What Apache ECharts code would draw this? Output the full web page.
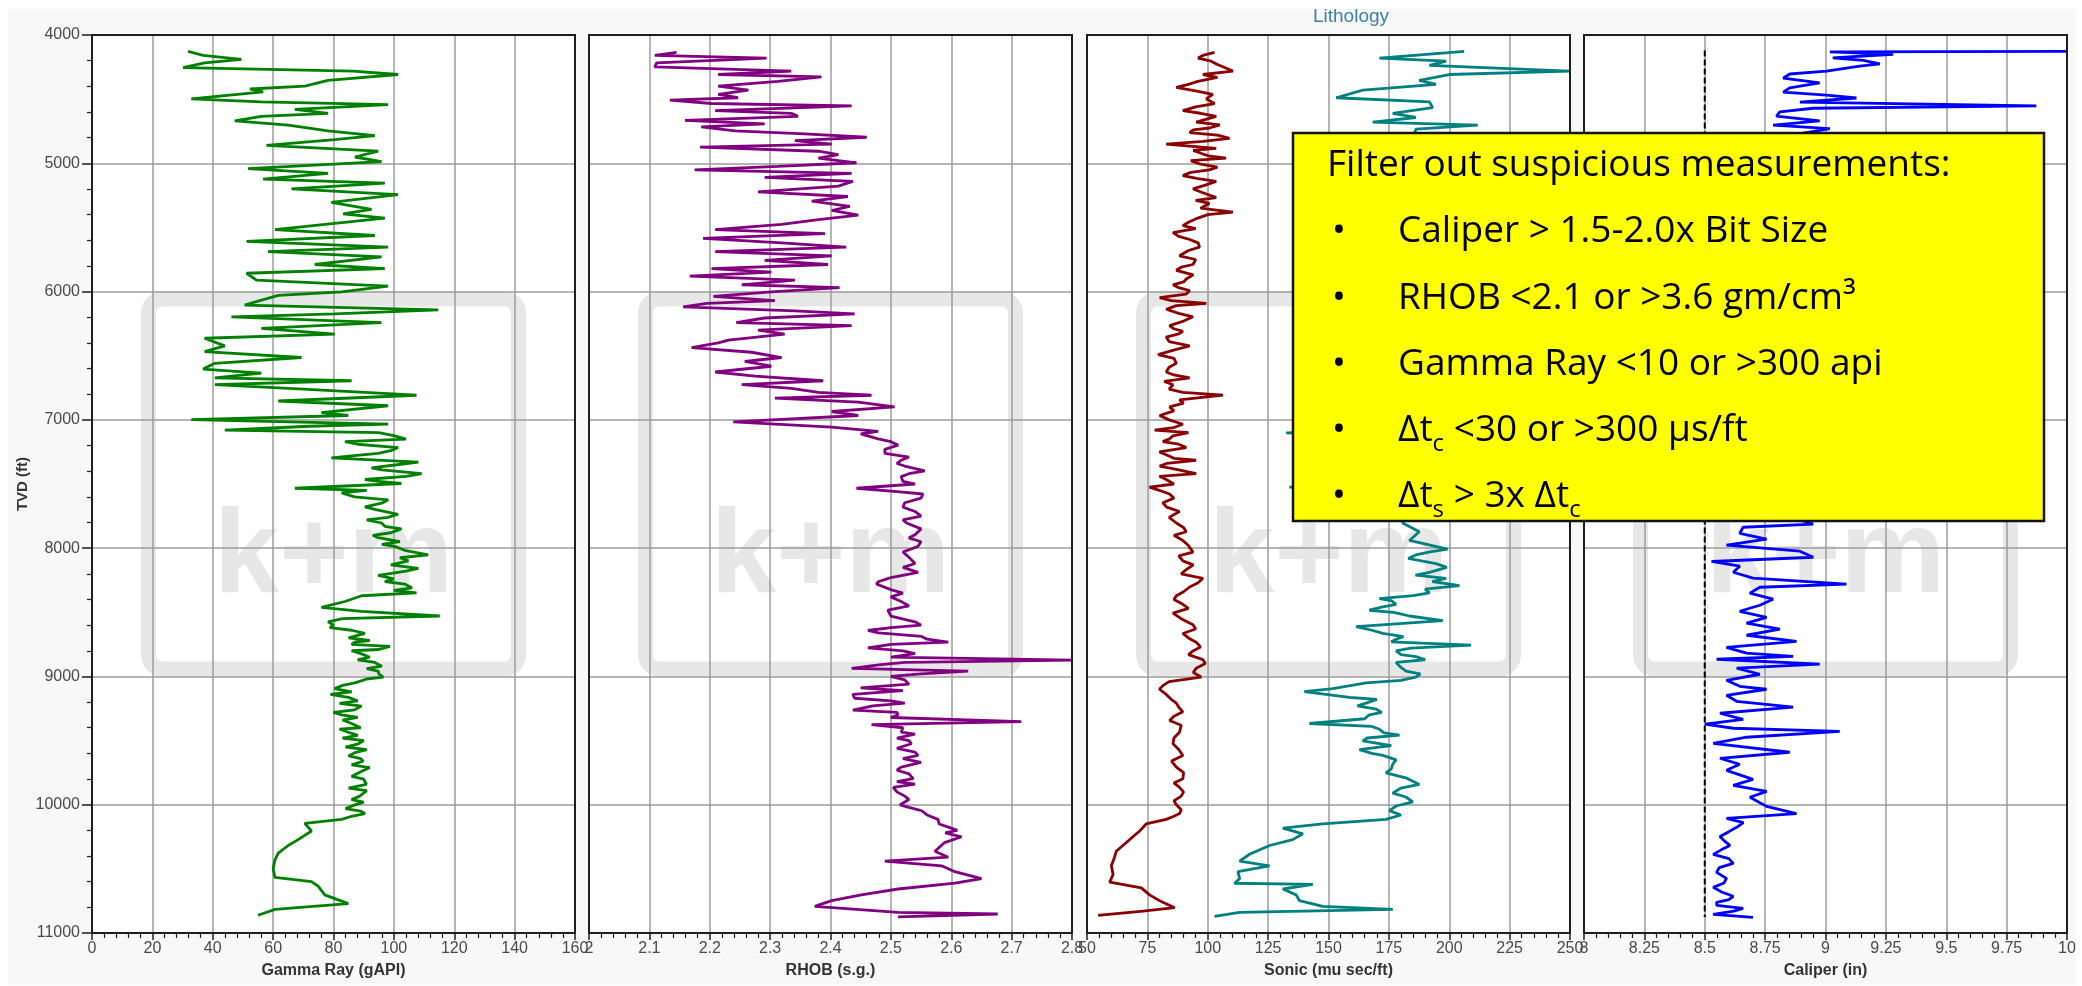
<!DOCTYPE html>
<html>
<head>
<meta charset="utf-8">
<title>Well logs</title>
<script src="https://cdn.jsdelivr.net/npm/echarts@6.0.0/dist/echarts.min.js"></script>
<style>
  html, body { margin: 0; padding: 0; background: #ffffff; }
  #chart { width: 2082px; height: 986px; }
</style>
</head>
<body>
<div id="chart"></div>
<script>
// ---------------- Track definitions ----------------
const trackTitles = ['Gamma Ray (gAPI)', 'RHOB (s.g.)', 'Sonic (mu sec/ft)', 'Caliper (in)'];
const trackMin = [0, 2, 50, 8];
const trackMax = [160, 2.8, 250, 10];
const trackStep = [20, 0.1, 25, 0.25];
const depthMin = 4000;
const depthMax = 11000;
const depthStep = 1000;
const depthTitle = 'TVD (ft)';
const headerTitle = 'Lithology';

// ---------------- Log curves (depth in ft, value in track units) ----------------
// Each depth/value pair list is sorted by depth before plotting, so the
// finer-scale samples appended at the end of a list fall into place.
const grDepth = [4127,4159,4190,4217,4254,4281,4308,4353,4399,4421,4444,4498,4521,4543,4580,4611,4634,4670,4702,4747,
  4784,4815,4861,4906,4951,4987,5042,5078,5123,5155,5200,5245,5304,5359,5395,5427,5472,5517,5563,5608,
  5653,5689,5730,5789,5821,5857,5911,5957,6002,6029,6074,6106,6142,6174,6197,6242,6287,6332,6364,6423,
  6468,6514,6559,6604,6636,6672,6695,6726,6763,6808,6853,6890,6944,6966,6998,7034,7080,7125,7170,7216,
  7261,7297,7329,7374,7419,7465,7496,7533,7569,7623,7678,7736,7804,7850,7918,7986,8053,8099,8158,8212,
  8280,8348,8371,8416,8461,8493,8529,8574,8620,8665,8733,8765,8824,8891,8959,9005,9050,9095,9163,9231,
  9299,9367,9435,9525,9594,9661,9752,9842,9933,10001,10069,10114,10146,10205,10272,10318,10377,10431,10499,10567,
  10599,10635,10703,10771,10816,10862,
  7050,7100,7150,7190,7240,7280,7350,7390,7440,7480,7550,7600,7650,7700,7760,7780,7830,7880,7900,7950,
  7970,8020,8075,8130,8180,8240,8260,8310,8330,8550,8600,8640,8700,8720,8750,8790,8800,8850,8870,8920,
  8940,8980,9020,9070,9120,9140,9190,9210,9260,9280,9320,9340,9400,9410,9460,9480,9500,9550,9570,9620,
  9640,9690,9710,9780,9800,9870,9890,9960,9980,10030,10050,10090];
const grValue = [31.8,36.8,49.5,37.3,30.2,86.5,101.4,78.2,70.5,52.3,56.7,32.9,56.1,98.1,67.2,78.2,56.1,47.3,65,78.2,
  93.7,80.4,57.8,94.8,87.1,95.9,51.7,78.2,56.7,97,66.1,101.4,79.3,92.6,83.2,97,78.8,60.6,93.7,51.2,
  98.1,58.3,95.9,73.8,97,51.2,54.5,98.1,82.7,61.7,55,50.6,114.7,80.4,46.2,95.9,56.1,80.4,37.3,44,
  37.3,69.4,40.7,36.8,56.1,40.7,86,40.7,71.6,107.5,61.7,98.1,76,84.9,32.9,98.1,44,100.3,83.8,101.4,
  94.8,79.3,108.1,92.6,109.2,90.4,102.5,67.2,82.7,98.1,90.4,101.4,95.9,102.5,94.8,100.3,111.4,104.8,108.1,94.8,
  103.6,107.5,89.3,83.8,76,89.3,115.2,78.2,78.8,90.4,87.1,98.7,89.3,93.7,94.8,96.5,87.1,80.4,84.9,89.3,
  82.7,86,84.9,88.2,87.1,89.8,88.2,90.9,88.7,87.1,90.4,82.7,70.5,72.7,68.3,65,61.7,60.6,60,60.6,
  72.7,74.9,77.1,84.9,60.6,55,
  72,95,104,88,99,86,101,96,104,95,91,87,96,94,98,91,97,99,93,102,
  96,104,102,99,104,100,97,106,100,83,80,86,85,92,86,95,86,92,88,96,
  91,95,91,83,86,79,88,82,87,80,88,83,89,82,88,83,90,84,91,85,
  89,86,92,86,90,85,91,86,90,84,89,86];

const rhobDepth = [4136,4159,4181,4217,4249,4281,4308,4326,4362,4399,4430,4462,4489,4507,4534,4553,4589,4611,4634,4666,
  4693,4716,4747,4770,4797,4824,4851,4874,4906,4933,4960,4996,5024,5051,5078,5110,5141,5178,5223,5259,
  5295,5336,5368,5404,5440,5476,5517,5549,5585,5621,5653,5689,5721,5757,5789,5821,5848,5880,5911,5947,
  5970,6002,6038,6070,6092,6120,6151,6174,6206,6242,6265,6301,6332,6378,6400,6437,6473,6514,6545,6582,
  6627,6659,6695,6726,6754,6785,6808,6831,6862,6899,6935,6966,7016,7057,7089,7148,7197,7261,7315,7360,
  7397,7442,7533,7578,7646,7714,7804,7895,7986,8076,8189,8280,8325,8416,8484,8574,8642,8688,8733,8778,
  8823,8873,8891,8937,8959,9027,9140,9208,9263,9299,9353,9376,9435,9525,9616,9707,9797,9865,9933,10001,
  10047,10114,10182,10250,10295,10363,10409,10440,10476,10522,10576,10612,10657,10703,10748,10793,10839,10852,10875,
  7110,7170,7230,7290,7340,7420,7480,7500,7560,7610,7680,7750,7780,7850,7920,7950,8030,8120,8150,8230,
  8260,8350,8380,8450,8530,8600,8620,8660,8710,8750,8800,8850,8910,8980,9000,9060,9090,9110,9170,9190,
  9230,9280,9320,9400,9450,9480,9500,9560,9590,9640,9670,9730,9760,9820,9840,9900,9960,10020,10080,10150,
  10200,10220];
const rhobValue = [2.145,2.109,2.294,2.112,2.109,2.335,2.214,2.385,2.313,2.214,2.264,2.214,2.247,2.134,2.203,2.435,2.209,2.335,2.346,2.159,
  2.291,2.186,2.242,2.357,2.46,2.341,2.402,2.184,2.38,2.413,2.38,2.443,2.313,2.175,2.435,2.291,2.437,2.413,2.28,2.429,
  2.369,2.432,2.402,2.446,2.38,2.319,2.209,2.391,2.189,2.319,2.426,2.209,2.402,2.291,2.396,2.203,2.302,2.167,2.341,2.253,
  2.415,2.302,2.206,2.308,2.195,2.156,2.341,2.44,2.291,2.244,2.435,2.28,2.324,2.231,2.214,2.17,2.269,2.319,2.258,2.302,
  2.209,2.275,2.388,2.253,2.335,2.38,2.468,2.308,2.446,2.506,2.402,2.446,2.239,2.402,2.479,2.479,2.512,2.49,2.517,2.523,
  2.556,2.517,2.443,2.553,2.523,2.54,2.526,2.54,2.545,2.531,2.545,2.476,2.501,2.517,2.495,2.54,2.462,2.551,2.595,2.462,
  2.54,2.8,2.523,2.435,2.628,2.523,2.437,2.523,2.437,2.512,2.716,2.468,2.517,2.534,2.545,2.517,2.537,2.504,2.523,2.515,
  2.551,2.578,2.6,2.617,2.589,2.573,2.595,2.49,2.584,2.606,2.65,2.606,2.512,2.451,2.402,2.374,2.512,2.677,2.512,
  2.45,2.5,2.49,2.53,2.51,2.53,2.52,2.54,2.51,2.55,2.52,2.55,2.52,2.55,2.53,2.55,2.52,2.54,2.52,2.5,
  2.48,2.52,2.5,2.53,2.5,2.55,2.5,2.48,2.56,2.5,2.52,2.5,2.48,2.55,2.5,2.53,2.45,2.52,2.44,2.5,
  2.47,2.51,2.5,2.52,2.54,2.51,2.53,2.51,2.54,2.52,2.55,2.51,2.53,2.51,2.54,2.51,2.53,2.53,2.56,2.58,
  2.61,2.59];

// Compressional slowness
const dtcDepth = [4136,4159,4204,4281,4308,4362,4408,4462,4498,4534,4589,4634,4679,4725,4761,4806,4851,4883,4928,4960,
  5005,5051,5096,5141,5200,5268,5313,5381,5427,5486,5540,5594,5653,5721,5789,5834,5902,5947,5993,6047,
  6092,6138,6197,6265,6310,6355,6423,6491,6559,6627,6672,6726,6785,6808,6844,6899,6966,7034,7080,7125,
  7170,7216,7284,7315,7360,7419,7465,7524,7578,7646,7714,7804,7872,7940,8031,8099,8167,8235,8303,8371,
  8438,8506,8597,8665,8733,8801,8869,8937,9005,9072,9140,9208,9276,9344,9435,9525,9616,9707,9797,9865,
  9933,10001,10069,10114,10150,10205,10250,10295,10363,10409,10476,10544,10603,10648,10703,10748,10803,10830,10862,
  4180,4230,4330,4385,4440,4560,4610,4700,4740,4780,4830,4900,4945,4980,5030,5070,5120,5170,5230,5290,
  5350,5400,5460,5510,5570,5620,5680,5750,5810,5870,5925,5970,6020,6070,6110,6170,6230,6290,6330,6390,
  6450,6520,6590,6650,6700,6760,6870,6930,7000,7060,7100,7150,7190,7250,7300,7340,7390,7440,7500,7550,
  7610,7680,7760,7840,7900,7980,8060,8130,8200,8270,8340,8400,8470,8550,8630,8700,8770,8830,8900,8970,
  9040,9100,9180,9240,9310,9380,9480,9570,9660,9750,9830,9900,9970,10040,10090];
const dtcValue = [102.8,98,101.4,110.4,98,95.9,87,102.1,99.4,102.8,89.7,103.5,95.2,100.7,92.5,109,82.8,103.5,98,107.6,
  96.6,100.7,89.7,103.5,93.9,103.5,100.7,110.4,95.9,89.7,85.6,92.5,96.6,88.3,93.9,87,91.1,85.6,92.5,80.1,
  99.4,82.8,93.9,84.2,89.7,82.8,92.5,79.4,87,82.8,92.5,85.6,89.7,106.3,88.3,84.2,80.1,89.7,78,85.6,
  81.4,91.1,84.2,95.2,80.1,95.2,82.8,75.9,84.2,81.4,88.3,87,91.1,89.7,93.9,89.7,91.1,98,92.5,87,
  89.7,85.6,93.9,89.7,95.2,93.9,98,95.2,97.3,81.4,82.8,87,89.7,84.2,88.3,85.6,89.7,87,89.7,88.3,
  89,87,88.3,82.8,74.5,71.8,69,66.3,62.1,61.4,60.1,60.8,59.4,72.5,75.9,80.1,86.3,73.2,54.6,
  96,104,104,92,96,95,97,105,94,104,98,94,101,93,104,93,96,99,98,95,
  97,100,92,95,88,96,92,95,89,94,90,88,91,85,87,88,90,86,88,84,
  87,86,84,86,82,84,90,86,84,86,92,84,88,80,86,83,88,80,86,80,
  86,83,84,90,86,92,88,94,89,96,90,86,92,89,95,92,97,92,99,94,
  84,80,85,88,86,89,86,88,85,90,86,90,86,89,86];

// Shear slowness
const dtsDepth = [4127,4145,4181,4204,4236,4281,4308,4353,4385,4430,4489,4521,4566,4611,4643,4679,4702,4734,4800,4900,
  5000,5100,5200,5300,5400,5500,5600,5700,5800,5900,6000,6100,6200,6300,6400,6500,6600,6700,6800,6900,
  7000,7080,7102,7120,7200,7300,7400,7500,7524,7550,7650,7750,7804,7872,7940,8008,8053,8121,8189,8235,
  8293,8348,8393,8438,8484,8529,8565,8611,8665,8710,8756,8801,8846,8891,8959,9005,9050,9095,9118,9163,
  9208,9254,9299,9367,9412,9457,9503,9571,9616,9684,9752,9842,9910,9978,10046,10114,10150,10182,10227,10272,
  10318,10386,10440,10476,10522,10576,10612,10621,10657,10703,10748,10793,10816,10839,10871,
  8030,8080,8150,8210,8260,8320,8370,8410,8460,8500,8590,8640,8690,8730,8780,8830,8870,8930,8980,9030,
  9180,9230,9280,9330,9390,9440,9480,9540,9600,9650,9720,9790,9870,9940,10010,10080];
const dtsValue = [206.2,194.5,171.1,198.7,191.8,249.7,200,187.6,194.5,164.2,153.2,191.8,193.1,176.6,186.2,168.3,211.8,186.2,185,192,
  180,195,185,190,178,195,185,190,182,196,188,180,192,185,178,190,183,175,186,178,
  185,180,132.5,178,185,175,182,180,133.8,180,188,182,180.7,187.6,183.5,199.3,186.2,194.5,191.8,198.7,
  204.2,191.8,171.1,178,166.9,183.5,197.3,161.4,172.5,178,209,178,186.2,178,182.1,186.2,165.6,151.8,140,158.7,
  165.6,169.7,166.9,142.1,171.1,179.4,164.2,162.8,172.5,176.6,173.8,187.6,176.6,184.9,175.2,173.8,147.6,131.1,139.4,135.2,
  125.6,117.3,113.2,125.6,112.5,113.2,111.1,143.5,131.1,136.6,138,147.6,176.6,113.2,102.8,
  192,183,199,186,193,190,185,176,172,177,178,168,181,176,184,180,190,180,188,180,
  170,162,172,165,168,173,166,176,168,178,176,182,180,182,178,180];

const calDepth = [4128,4132,4150,4178,4197,4225,4243,4281,4304,4337,4374,4412,4445,4468,4491,4524,4552,4571,4599,4632,
  4669,4702,4730,4800,4900,5000,5100,5200,5300,5400,5500,5600,5700,5800,5900,6000,6100,6200,6300,6400,
  6500,6600,6700,6800,6900,7000,7100,7200,7300,7400,7500,7600,7700,7813,7837,7884,7930,7977,8024,8071,
  8104,8141,8188,8234,8281,8305,8351,8398,8445,8492,8539,8585,8632,8679,8726,8773,8819,8843,8866,8904,
  8936,8983,9030,9077,9100,9147,9194,9240,9287,9334,9372,9404,9428,9474,9521,9591,9638,9685,9732,9802,
  9849,9896,9942,10013,10069,10106,10176,10247,10317,10387,10457,10527,10574,10644,10714,10761,10808,10855,10878,
  10140,10210,10280,10350,10420,10490,10610,10680,10740,10785,10830];
const calValue = [10,9.018,9.28,9.03,9.156,9.225,9.142,9.004,8.852,8.825,8.976,8.852,8.825,9.004,9.128,8.894,9.873,8.949,8.811,8.797,
  8.976,8.783,9.018,8.8,8.72,8.85,8.7,8.9,8.75,8.82,8.68,8.8,8.74,8.86,8.7,8.78,8.66,8.8,8.7,8.75,
  8.64,8.78,8.68,8.74,8.62,8.72,8.66,8.8,8.68,8.74,8.62,8.7,8.76,8.949,8.659,8.645,8.756,8.59,8.894,8.949,
  8.528,8.645,8.618,8.7,9.087,8.728,8.687,8.783,8.728,8.645,8.756,8.673,8.811,8.673,8.88,8.59,8.673,8.866,8.549,8.976,
  8.632,8.728,8.59,8.645,8.756,8.59,8.632,8.866,8.563,8.659,8.501,8.618,9.059,8.673,8.535,8.852,8.563,8.645,8.59,8.7,
  8.618,8.756,8.687,8.756,8.88,8.59,8.632,8.563,8.604,8.535,8.618,8.549,8.59,8.535,8.618,8.549,8.659,8.535,8.7,
  8.66,8.6,8.58,8.57,8.6,8.56,8.58,8.57,8.6,8.55,8.62];

// Bit size reference line on the caliper track
const bitSize = 8.5;
const bitDepthRange = [4120, 10875];

// Quality-control note
const noteTitle = 'Filter out suspicious measurements:';
const noteLines = [
  [{ t: 'Caliper > 1.5-2.0x Bit Size' }],
  [{ t: 'RHOB <2.1 or >3.6 gm/cm\u00B3' }],
  [{ t: 'Gamma Ray <10 or >300 api' }],
  [{ t: '\u0394t' }, { t: 'c', sub: true }, { t: ' <30 or >300 \u03BCs/ft' }],
  [{ t: '\u0394t' }, { t: 's', sub: true }, { t: ' > 3x \u0394t' }, { t: 'c', sub: true }]
];

// ---------------- Layout ----------------
const PLOT = { top: 35, height: 898, width: 483, lefts: [92, 589, 1087, 1584] };
const AXIS_FONT = '"Liberation Sans", Arial, Helvetica, sans-serif';
const NOTE_FONT = '"Open Sans", "Noto Sans", sans-serif';
const GRID_COLOR = '#9c9c9c';
const FRAME_COLOR = '#1e1e1e';

// [value, depth] pairs ordered by depth
function pairs(values, depths) {
  const n = Math.min(values.length, depths.length);
  const out = [];
  for (let i = 0; i < n; i++) out.push([values[i], depths[i]]);
  out.sort((a, b) => a[1] - b[1]);
  return out;
}

const grids = PLOT.lefts.map(left => ({
  left: left, top: PLOT.top, width: PLOT.width, height: PLOT.height,
  containLabel: false, outerBoundsMode: 'none', show: false
}));

const xAxes = trackTitles.map((title, i) => ({
  type: 'value', gridIndex: i, position: 'bottom',
  min: trackMin[i], max: trackMax[i], interval: trackStep[i],
  name: title, nameLocation: 'middle', nameGap: 30,
  nameTextStyle: { fontFamily: AXIS_FONT, fontSize: 16, fontWeight: 'bold', color: '#333' },
  axisLine: { show: true, onZero: false, lineStyle: { color: FRAME_COLOR, width: 2 } },
  axisTick: { show: true, inside: false, length: 7, lineStyle: { color: FRAME_COLOR, width: 1.5 } },
  minorTick: { show: true, splitNumber: 5, length: 5, lineStyle: { color: FRAME_COLOR, width: 1.2 } },
  axisLabel: { show: true, showMinLabel: true, showMaxLabel: true, hideOverlap: false, margin: 8,
    fontFamily: AXIS_FONT, fontSize: 16, color: '#4a4a4a',
    formatter: v => String(Math.round(v * 1000) / 1000) },
  splitLine: { show: true, lineStyle: { color: GRID_COLOR, width: 1.5 } },
  minorSplitLine: { show: false }
}));

const yAxes = trackTitles.map((t, i) => ({
  type: 'value', gridIndex: i, inverse: true,
  min: depthMin, max: depthMax, interval: depthStep,
  name: i === 0 ? depthTitle : '', nameLocation: 'middle', nameGap: 62, nameRotate: 90,
  nameTextStyle: { fontFamily: AXIS_FONT, fontSize: 15, fontWeight: 'bold', color: '#333' },
  axisLine: { show: true, lineStyle: { color: FRAME_COLOR, width: 2 } },
  axisTick: { show: i === 0, inside: false, length: 10, lineStyle: { color: FRAME_COLOR, width: 1.5 } },
  minorTick: { show: i === 0, splitNumber: 5, length: 5, lineStyle: { color: FRAME_COLOR, width: 1.2 } },
  axisLabel: { show: i === 0, margin: 12, fontFamily: AXIS_FONT, fontSize: 16, color: '#4a4a4a',
    formatter: v => String(v) },
  splitLine: { show: true, lineStyle: { color: GRID_COLOR, width: 1.5 } }
}));

function curve(name, idx, values, depths, color, extra) {
  return Object.assign({
    type: 'line', name: name, xAxisIndex: idx, yAxisIndex: idx,
    data: pairs(values, depths), showSymbol: false, symbol: 'none',
    lineStyle: { color: color, width: 2.8 }, itemStyle: { color: color },
    clip: true, silent: true, animation: false, z: 4
  }, extra || {});
}

const series = [
  curve('Gamma Ray', 0, grValue, grDepth, '#008000'),
  curve('RHOB', 1, rhobValue, rhobDepth, '#800080'),
  curve('DTC', 2, dtcValue, dtcDepth, '#8b0000'),
  curve('DTS', 2, dtsValue, dtsDepth, '#008080'),
  curve('Bit size', 3, [bitSize, bitSize], bitDepthRange, '#000000',
    { lineStyle: { color: '#000000', width: 2, type: [6, 3] }, z: 3 }),
  curve('Caliper', 3, calValue, calDepth, '#0000ff')
];

// ---------------- Decorations ----------------
const graphics = [];
// page panel
graphics.push({ type: 'rect', silent: true, z: -30,
  shape: { x: 8, y: 9, width: 2068, height: 976 }, style: { fill: '#f8f8f8' } });

PLOT.lefts.forEach(left => {
  const cx = left + PLOT.width / 2;
  const cy = PLOT.top + PLOT.height / 2;
  graphics.push({ type: 'rect', silent: true, z: -20,
    shape: { x: left, y: PLOT.top, width: PLOT.width, height: PLOT.height }, style: { fill: '#ffffff' } });
  // logo watermark
  graphics.push({ type: 'rect', silent: true, z: -10,
    shape: { x: cx - 185, y: cy - 185, width: 370, height: 370, r: 14 },
    style: { fill: null, stroke: '#e7e7e7', lineWidth: 15 } });
  graphics.push({ type: 'text', silent: true, z: -10, x: cx, y: cy + 75,
    style: { text: 'k+m', fill: '#e7e7e7', font: 'bold 118px ' + AXIS_FONT, align: 'center', verticalAlign: 'middle' } });
  // frame
  graphics.push({ type: 'rect', silent: true, z: 10,
    shape: { x: left, y: PLOT.top, width: PLOT.width, height: PLOT.height },
    style: { fill: null, stroke: FRAME_COLOR, lineWidth: 2 } });
});

graphics.push({ type: 'text', silent: true, z: 10, x: 1351, y: 17,
  style: { text: headerTitle, fill: '#3f7fae', font: '19px ' + AXIS_FONT, align: 'center', verticalAlign: 'middle' } });

// note box
const NOTE = { x: 1293, y: 133, w: 751, h: 388, titleX: 1327, bulletX: 1332, textX: 1398,
  baselines: [180, 246, 313, 379, 445, 511], size: 37, subSize: 24, subDrop: 8 };
const measureCtx = document.createElement('canvas').getContext('2d');
function textWidth(str, font) { measureCtx.font = font; return measureCtx.measureText(str).width; }
function noteText(str, x, baseline, size) {
  const font = size + 'px ' + NOTE_FONT;
  return { type: 'text', silent: true, z: 61, x: x, y: baseline - 0.388 * size,
    style: { text: str, fill: '#000000', font: font, align: 'left', verticalAlign: 'middle' } };
}
graphics.push({ type: 'rect', silent: true, z: 60,
  shape: { x: NOTE.x, y: NOTE.y, width: NOTE.w, height: NOTE.h },
  style: { fill: '#ffff00', stroke: '#111111', lineWidth: 2.5 } });
graphics.push(noteText(noteTitle, NOTE.titleX, NOTE.baselines[0], NOTE.size));
noteLines.forEach((segs, li) => {
  const base = NOTE.baselines[li + 1];
  graphics.push(noteText('\u2022', NOTE.bulletX, base, NOTE.size));
  let x = NOTE.textX;
  segs.forEach(seg => {
    const size = seg.sub ? NOTE.subSize : NOTE.size;
    const b = seg.sub ? base + NOTE.subDrop : base;
    graphics.push(noteText(seg.t, x, b, size));
    x += textWidth(seg.t, size + 'px ' + NOTE_FONT);
  });
});

const chart = echarts.init(document.getElementById('chart'), null, { renderer: 'canvas', width: 2082, height: 986 });
chart.setOption({
  backgroundColor: '#ffffff',
  animation: false,
  grid: grids,
  xAxis: xAxes,
  yAxis: yAxes,
  series: series,
  graphic: { elements: graphics }
});
</script>
</body>
</html>
